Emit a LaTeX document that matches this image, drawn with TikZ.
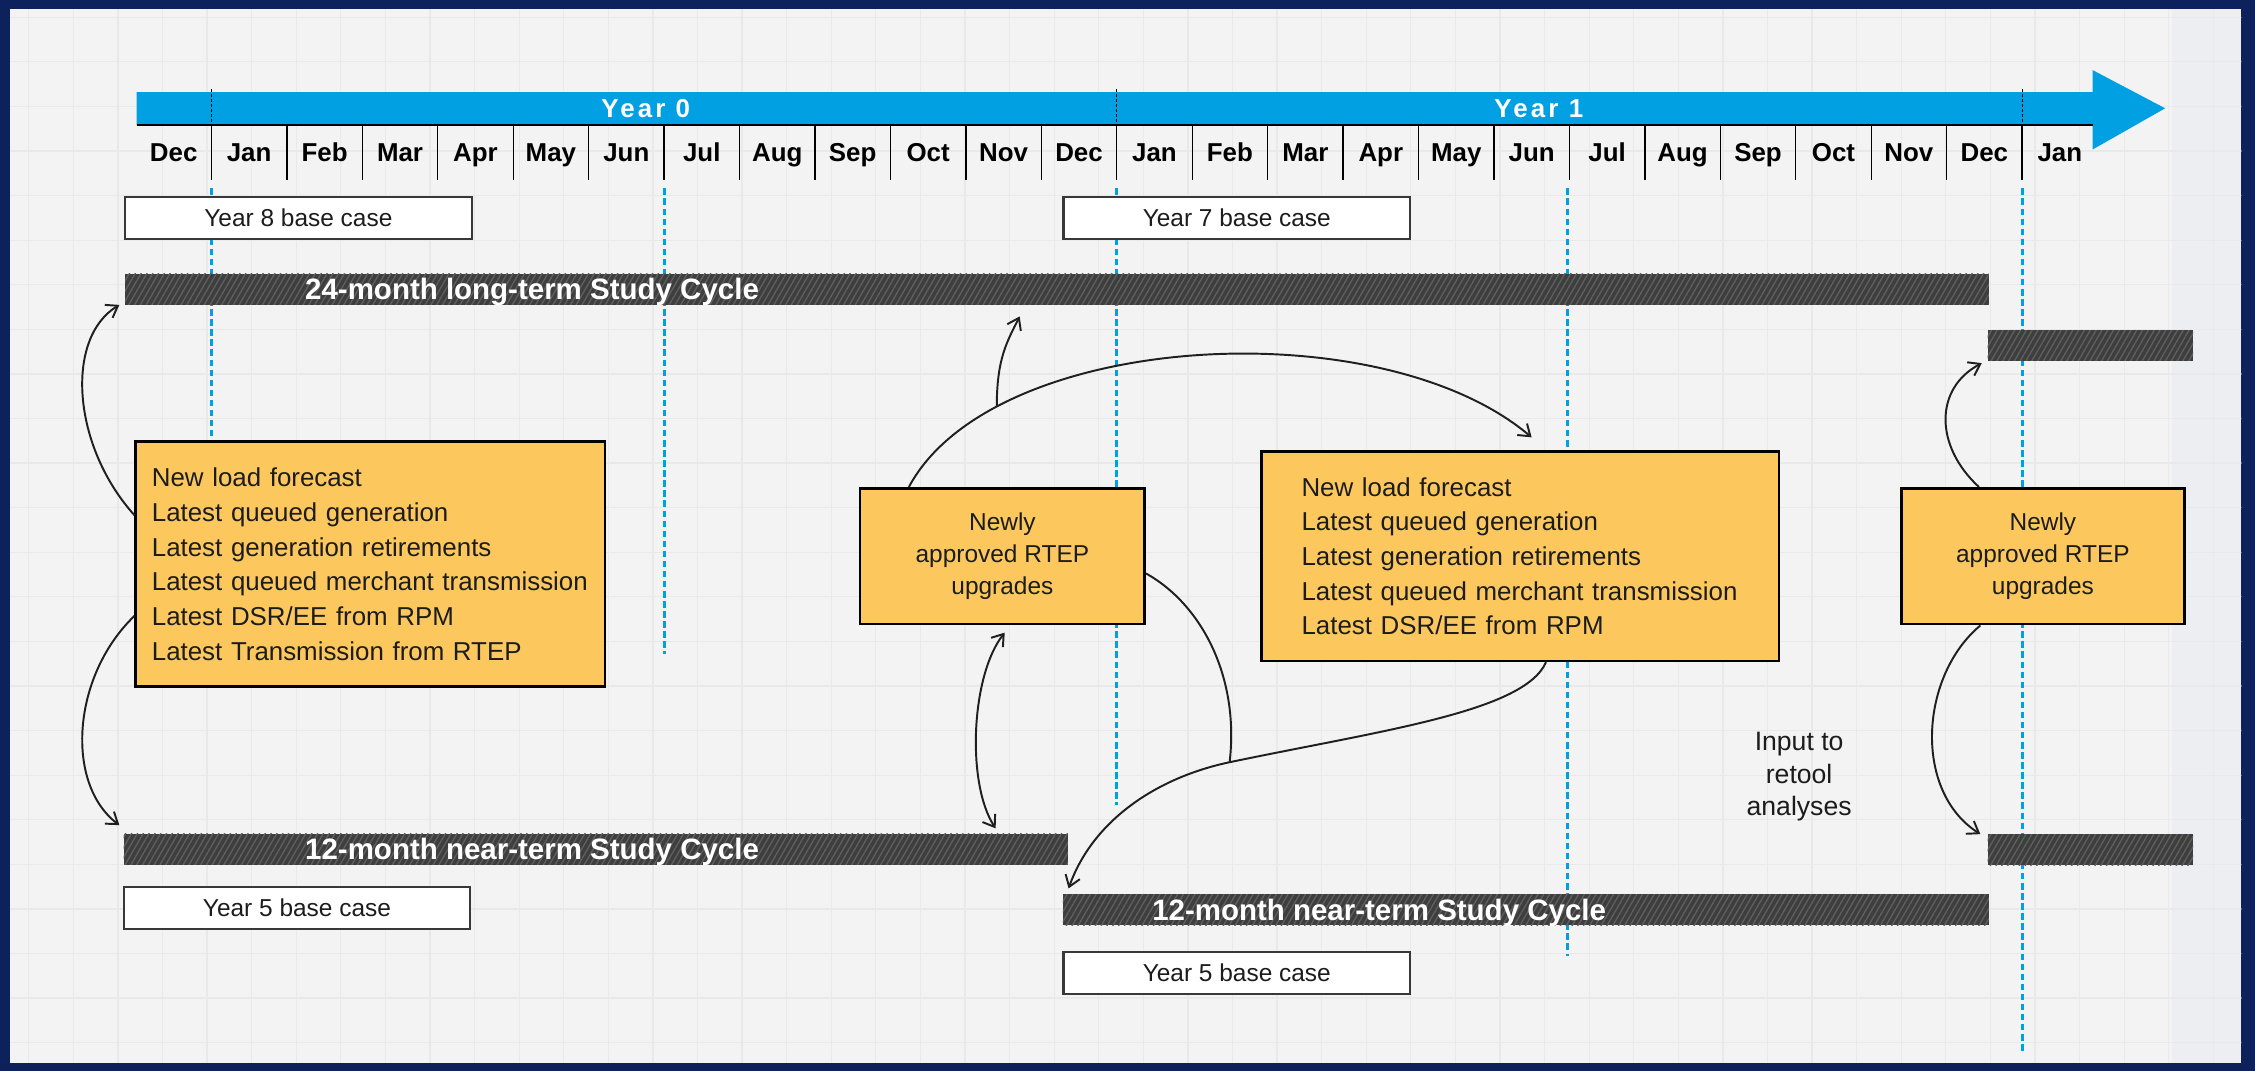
\documentclass[tikz,border=0pt]{standalone}
\usepackage{fontspec}
\setmainfont{Liberation Sans}
\newfontfamily\yearfont{Liberation Sans}[LetterSpace=12]
\usetikzlibrary{arrows.meta,patterns.meta}
\definecolor{navy}{RGB}{13,33,92}
\definecolor{bgpaper}{RGB}{243,243,243}
\definecolor{bgright}{RGB}{236,238,242}
\definecolor{gridc}{RGB}{233,233,233}
\definecolor{tlblue}{RGB}{0,160,226}
\definecolor{boxyellow}{RGB}{252,200,94}
\definecolor{bardark}{RGB}{62,62,62}
\definecolor{barhatch}{RGB}{96,96,96}
\definecolor{ink}{RGB}{28,28,28}
\begin{document}
\begin{tikzpicture}[x=1pt,y=-1pt,
  conn/.style={line width=1.35pt, draw=black!88},
  tip/.style={-{Straight Barb[length=7.5pt,width=10.5pt]}},
  gridline/.style={draw=gridc, line width=0.9pt},
  vdash/.style={draw=tlblue, line width=2pt, dash pattern=on 4.5pt off 2.5pt},
  sep/.style={draw=black, line width=0.9pt},
  month/.style={font=\bfseries\fontsize{18}{20}\selectfont, inner sep=0pt, anchor=base, text=black},
  yearlbl/.style={font=\yearfont\bfseries\fontsize{18}{20}\selectfont, inner sep=0pt, anchor=base, text=white},
  wbox/.style={draw=black!78, line width=1.5pt, fill=white, minimum width=241pt, minimum height=29pt, inner sep=0pt, font=\fontsize{17}{20}\selectfont, text=ink},
  ybox/.style={draw=black, line width=1.8pt, fill=boxyellow, inner sep=0pt, text=ink},
  listtext/.style={text width=304pt, align=left, font=\fontsize{18}{24.1}\selectfont},
  newtext/.style={align=center, font=\fontsize{17}{22}\selectfont},
  bar/.style={fill=bardark, postaction={pattern={Lines[angle=60,distance=3.5pt,line width=0.9pt]}, pattern color=barhatch}, inner sep=0pt, outer sep=0pt, minimum height=21.5pt},
  bartext/.style={font=\bfseries\fontsize{20.5}{24}\selectfont, text=white, inner sep=0pt, anchor=base west}
]
\useasboundingbox (0,0) rectangle (1568,745);
% frame and paper
\fill[navy] (0,0) rectangle (1568,745);
\fill[bgpaper] (7,6.5) rectangle (1558.5,739);
\fill[bgright] (1510,6.5) rectangle (1558.5,739);
\begin{scope}
  \clip (7,6.5) rectangle (1558.5,739);
  \foreach \g in {20,51,...,1560} \draw[gridline] (\g,0) -- (\g,745);
  \foreach \g in {12,43,...,745} \draw[gridline] (0,\g) -- (1568,\g);
\end{scope}
% blue dashed month guides
\foreach \xx/\yy in {147/320, 461.8/455, 776.5/560, 1090/665, 1406.5/731}
  \draw[vdash] (\xx,131) -- (\xx,\yy);
% timeline arrow
\fill[tlblue] (95,64) -- (1455,64) -- (1455,48.7) -- (1505.5,75.3) -- (1455,104) -- (1455,87) -- (95,87) -- cycle;
\draw[line width=0.9pt] (95,87) -- (1455,87);
\foreach \i in {0,12,24}
  \draw[line width=0.6pt, dash pattern=on 2pt off 1.5pt] ({147+52.46*\i},62) -- ({147+52.46*\i},87);
\foreach \i in {0,...,24}
  \draw[sep] ({147+52.46*\i},87) -- ({147+52.46*\i},125.5);
\foreach \m [count=\i from 0] in {Dec,Jan,Feb,Mar,Apr,May,Jun,Jul,Aug,Sep,Oct,Nov,Dec,Jan,Feb,Mar,Apr,May,Jun,Jul,Aug,Sep,Oct,Nov,Dec,Jan}
  \node[month] (m\i) at ({147+52.46*(\i-0.5)},112.5) {\m};
\node[yearlbl] (y0) at (449,82) {Year 0};
\node[yearlbl] (y1) at (1070,82) {Year 1};
% base case boxes
\node[wbox] (b8) at (207.5,151.5) {Year 8 base case};
\node[wbox] (b7) at (860,151.5) {Year 7 base case};
\node[wbox] (b5l) at (206.5,631.5) {Year 5 base case};
\node[wbox] (b5r) at (860,676.5) {Year 5 base case};
% study cycle bars
\node[bar, minimum width=1296pt] (bar24) at (735,201.25) {};
\node[bar, minimum width=143pt] (sbt) at (1453.5,240.25) {};
\node[bar, minimum width=656.5pt] (bar12l) at (414.25,590.5) {};
\node[bar, minimum width=644pt] (bar12r) at (1061,632.5) {};
\node[bar, minimum width=143pt] (sbb) at (1453.5,590.75) {};
\node[bartext] (t24) at (212,208.5) {24-month long-term Study Cycle};
\node[bartext] (t12l) at (212,597.8) {12-month near-term Study Cycle};
\node[bartext] (t12r) at (801,639.8) {12-month near-term Study Cycle};
% yellow boxes
\node[ybox, listtext, minimum width=326.4pt, minimum height=170.5pt] (ly) at (257.6,392.25)
  {New load forecast\\Latest queued generation\\Latest generation retirements\\Latest queued merchant transmission\\Latest DSR/EE from RPM\\Latest Transmission from RTEP};
\node[ybox, listtext, minimum width=360pt, minimum height=145.5pt] (ry) at (1057,386.75)
  {New load forecast\\Latest queued generation\\Latest generation retirements\\Latest queued merchant transmission\\Latest DSR/EE from RPM};
\node[ybox, newtext, minimum width=198pt, minimum height=94.5pt] (mb) at (697,386.75) {Newly\\approved RTEP\\upgrades};
\node[ybox, newtext, minimum width=197pt, minimum height=94.5pt] (fb) at (1420.5,386.75) {Newly\\approved RTEP\\upgrades};
\node[align=center, font=\fontsize{18.5}{22.5}\selectfont, text=ink, inner sep=0pt] (inp) at (1251,540) {Input to\\retool\\analyses};
% connectors
\coordinate (J) at (855,530);
\coordinate (t4) at (709,220);
\coordinate (a5b) at (692.3,576);
\draw[conn,tip] ([yshift=34pt]ly.west) .. controls (50,310) and (45,235) .. ([xshift=-4pt]bar24.south west);
\draw[conn,tip] ([yshift=-36pt]ly.west) .. controls (50,470) and (45,545) .. ([shift={(-3pt,6pt)}]bar12l.north west);
\draw[conn,tip] ([xshift=-65pt]mb.north) .. controls (690,230) and (960,215) .. ([shift={(8pt,9pt)}]ry.north) coordinate[pos=0.21] (arcpt);
\draw[conn,tip] (arcpt) .. controls ([yshift=33pt]arcpt) and (700,238) .. (t4);
\draw[conn,{Straight Barb[length=7.5pt,width=10.5pt]}-{Straight Barb[length=7.5pt,width=10.5pt]}] ([shift={(1.6pt,-5pt)}]mb.south) .. controls (675,470) and (672,545) .. (a5b);
\draw[conn] ([yshift=-12pt]mb.east) .. controls (835,420) and (862,470) .. (J);
\draw[conn,tip] ([xshift=18pt]ry.south) .. controls (1060,495) and (960,508) .. (J) .. controls (805,540.5) and (760,570) .. ([shift={(4pt,4pt)}]bar12r.north west);
\draw[conn,tip] ([xshift=-44.5pt]fb.north) .. controls (1345,310) and (1345,270) .. ([shift={(-4pt,-1.5pt)}]sbt.south west);
\draw[conn,tip] ([xshift=-43.5pt]fb.south) .. controls (1335,470) and (1330,550) .. ([xshift=-5pt]sbb.north west);
\end{tikzpicture}
\end{document}
